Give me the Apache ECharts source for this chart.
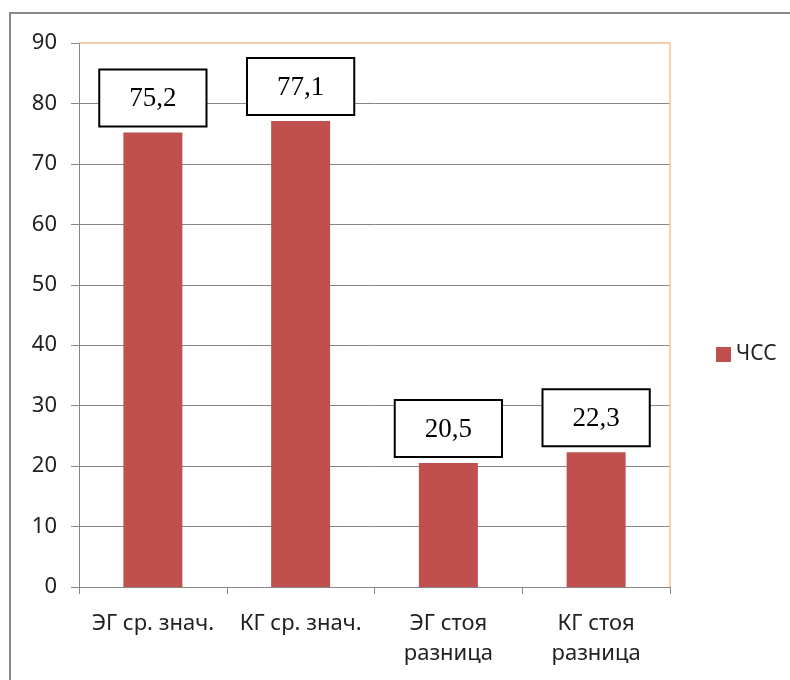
<!DOCTYPE html>
<html>
<head>
<meta charset="utf-8">
<script src="https://cdn.jsdelivr.net/npm/echarts@6/dist/echarts.min.js"></script>
<style>
html,body{margin:0;padding:0;background:#fff;}
#chart{width:790px;height:680px;}
</style>
</head>
<body>
<div id="chart"></div>
<script>
const categories = ['ЭГ ср. знач.', 'КГ ср. знач.', 'ЭГ стоя\nразница', 'КГ стоя\nразница'];
const seriesName = 'ЧСС';
const values = [75.2, 77.1, 20.5, 22.3];
const yTicks = [0, 10, 20, 30, 40, 50, 60, 70, 80, 90];

const chart = echarts.init(document.getElementById('chart'), null, {renderer: 'canvas'});
chart.setOption({
  animation: false,
  backgroundColor: '#fff',
  graphic: [{
    type: 'rect',
    shape: {x: 10, y: 13, width: 800, height: 700},
    style: {fill: 'none', stroke: '#8a8a8a', lineWidth: 2},
    silent: true, z: 0
  }],
  grid: {
    left: 79, right: 120, top: 43, bottom: 93,
    show: false
  },
  legend: {
    data: [seriesName],
    orient: 'vertical',
    left: 711, top: 339,
    icon: 'rect', itemWidth: 15, itemHeight: 15, itemGap: 8,
    textStyle: {fontFamily: 'Noto Sans', fontSize: 21, color: '#222'}
  },
  xAxis: [{
    type: 'category',
    data: categories,
    axisLine: {lineStyle: {color: '#868686', width: 1}},
    axisTick: {show: true, length: 7, lineStyle: {color: '#868686'}},
    axisLabel: {fontFamily: 'Noto Sans', fontSize: 22, color: '#222', margin: 22, lineHeight: 30, interval: 0}
  }, {
    type: 'category',
    position: 'top',
    data: categories,
    axisLine: {show: true, onZero: false, lineStyle: {color: '#FAC090', width: 1.5}},
    axisTick: {show: false},
    axisLabel: {show: false}
  }],
  yAxis: [{
    type: 'value',
    min: yTicks[0], max: yTicks[yTicks.length - 1], interval: 10,
    axisLine: {show: true, lineStyle: {color: '#868686', width: 1}},
    axisTick: {show: true, length: 8, lineStyle: {color: '#868686'}},
    axisLabel: {fontFamily: 'Noto Sans', fontSize: 22, color: '#222', margin: 22},
    splitLine: {show: true, showMaxLine: false, lineStyle: {color: '#868686', width: 1}}
  }, {
    type: 'value',
    position: 'right',
    min: yTicks[0], max: yTicks[yTicks.length - 1], interval: 10,
    axisLine: {show: true, onZero: false, lineStyle: {color: '#FAC090', width: 1.5}},
    axisTick: {show: false},
    axisLabel: {show: false},
    splitLine: {show: false}
  }],
  series: [{
    name: seriesName,
    type: 'bar',
    data: values,
    barWidth: 59,
    itemStyle: {color: '#C0504D'},
    label: {
      show: true,
      position: 'top',
      distance: 7,
      formatter: p => String(p.value).replace('.', ','),
      fontFamily: 'Liberation Serif',
      fontSize: 27,
      color: '#000',
      backgroundColor: '#fff',
      borderColor: '#000',
      borderWidth: 2,
      padding: [15, 29, 13, 29]
    }
  }]
});
</script>
</body>
</html>
